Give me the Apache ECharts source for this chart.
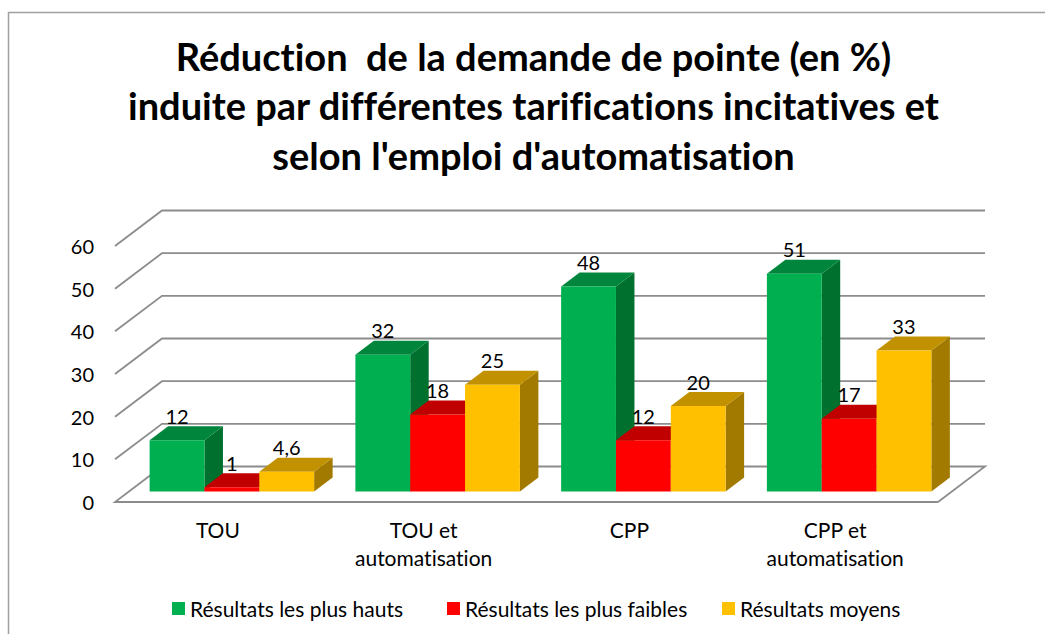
<!DOCTYPE html>
<html><head><meta charset="utf-8">
<style>html,body{margin:0;padding:0;background:#fff}#c{width:1045px;height:634px}
#c text{font-variant-ligatures:none}</style>
<script src="https://cdn.jsdelivr.net/npm/echarts@6/dist/echarts.min.js"></script>
</head><body><div id="c"></div>
<script>
const categories = ['TOU', 'TOU et\nautomatisation', 'CPP', 'CPP et\nautomatisation'];
const hauts = [12, 32, 48, 51];
const faibles = [1, 18, 12, 17];
const moyens = [4.6, 25, 20, 33];
const yTicks = [0, 10, 20, 30, 40, 50, 60];
const seriesNames = ['Résultats les plus hauts', 'Résultats les plus faibles', 'Résultats moyens'];
const titleText = "Réduction  de la demande de pointe (en %)\ninduite par différentes tarifications incitatives et\nselon l'emploi d'automatisation";

const frontColors = ['#00B050', '#FF0000', '#FFC000'];
const topColors = ['#00853C', '#C00000', '#C29100'];
const sideColors = ['#00702F', '#A00000', '#A37A00'];
const legendLefts = [172, 447, 722];
const FONT = 'Lato';
const wallDX = 47, wallDY = 35.5;      // depth of the 3D box
const barShiftX = 14, barShiftY = 10.6; // bars sit inside the floor
const barDX = 18.5, barDY = 14;        // depth of one bar
const barFrac = 0.2665;                // width of a bar / category band

function gridItem(params, api) {
  const cs = params.coordSys;
  const y = api.coord([0, api.value(1)])[1];
  const x0 = cs.x, x1 = cs.x + cs.width;
  const pts = api.value(1) === 0
    ? [[x1, y], [x0, y], [x0 + wallDX, y - wallDY], [x1 + wallDX, y - wallDY], [x1, y]]
    : [[x0, y], [x0 + wallDX, y - wallDY], [x1 + wallDX, y - wallDY]];
  return { type: 'polyline', shape: { points: pts }, style: { fill: null, stroke: '#8C8C8C', lineWidth: 1.8 } };
}

function barSeries(k, values) {
  return {
    name: seriesNames[k], type: 'custom', z: 3 + k,
    itemStyle: { color: frontColors[k] },
    data: values.map((v, i) => [i, v]),
    encode: { x: 0, y: 1 },
    renderItem(params, api) {
      const i = api.value(0), v = api.value(1);
      const top = api.coord([i, v]), base = api.coord([i, 0]);
      const w = api.size([1, 0])[0] * barFrac;
      const l = top[0] + barShiftX + (k - 1.5) * w;
      const r = l + w;
      const t = top[1] - barShiftY, b = base[1] - barShiftY;
      return {
        type: 'group',
        children: [
          { type: 'polygon', shape: { points: [[r, t], [r + barDX, t - barDY], [r + barDX, b - barDY], [r, b]] }, style: { fill: sideColors[k] } },
          { type: 'polygon', shape: { points: [[l, t], [l + barDX, t - barDY], [r + barDX, t - barDY], [r, t]] }, style: { fill: topColors[k] } },
          { type: 'rect', shape: { x: l, y: t, width: w, height: b - t }, style: { fill: frontColors[k] } },
          { type: 'text', z2: 50, style: { x: l + w / 2, y: t - 24.5, text: String(v).replace('.', ','), align: 'center', verticalAlign: 'middle', fill: '#000', font: '20px ' + FONT } }
        ]
      };
    }
  };
}

const chart = echarts.init(document.getElementById('c'), null, { renderer: 'svg' });
chart.setOption({
  animation: false,
  backgroundColor: '#fff',
  title: {
    text: titleText, left: 528.5, top: 26, textAlign: 'center',
    textStyle: { fontFamily: FONT, fontWeight: 'bold', fontSize: 38, lineHeight: 49.5, color: '#000' }
  },
  legend: seriesNames.map((n, k) => ({
    data: [n], left: legendLefts[k], top: 598, padding: 0, icon: 'rect', itemWidth: 13, itemHeight: 13,
    textStyle: { fontFamily: FONT, fontSize: 21, color: '#000' }
  })),
  grid: { left: 115, width: 823, top: 246, height: 256 },
  xAxis: {
    type: 'category', data: categories,
    axisLine: { show: false }, axisTick: { show: false },
    axisLabel: { margin: 13, fontFamily: FONT, fontSize: 21, lineHeight: 28, color: '#000', interval: 0 }
  },
  yAxis: {
    type: 'value', min: 0, max: 60, interval: 10,
    axisLine: { show: false }, axisTick: { show: false }, splitLine: { show: false },
    axisLabel: { margin: 21, fontFamily: FONT, fontSize: 20, color: '#000', padding: [4, 0, 0, 0] }
  },
  graphic: [
    { type: 'polyline', silent: true, shape: { points: [[8.5, 634], [8.5, 12.5], [1045, 12.5]] }, style: { fill: null, stroke: '#A0A0A0', lineWidth: 1.5 } }
  ],
  series: [
    { type: 'custom', z: 1, silent: true, data: yTicks.map(v => [0, v]), encode: { x: 0, y: 1 }, renderItem: gridItem },
    barSeries(0, hauts), barSeries(1, faibles), barSeries(2, moyens)
  ]
});
</script></body></html>
